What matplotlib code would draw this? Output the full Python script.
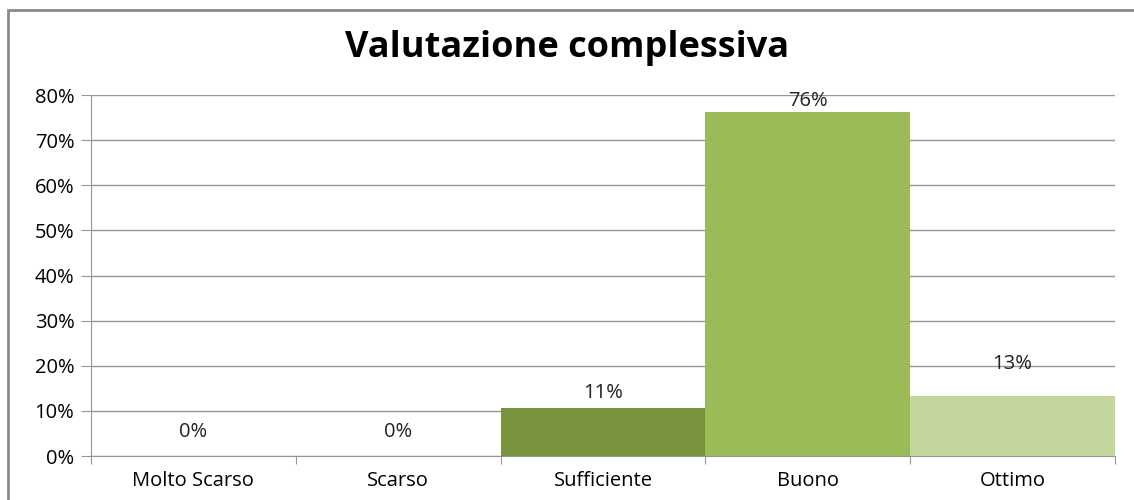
import matplotlib
matplotlib.use("Agg")
import matplotlib.pyplot as plt
from matplotlib.patches import Rectangle
from matplotlib.ticker import FuncFormatter, MultipleLocator

categorie = ["Molto Scarso", "Scarso", "Sufficiente", "Buono", "Ottimo"]
valori = [0.0, 0.0, 10.6, 76.2, 13.3]
etichette = ["0%", "0%", "11%", "76%", "13%"]
colori = ["#77933C", "#77933C", "#77933C", "#9BBB59", "#C3D69B"]
# distanza (in punti) delle etichette sopra le barre
scarti = [17, 17, 11, 8, 23]

plt.rcParams["font.family"] = ["Open Sans", "DejaVu Sans"]

fig = plt.figure(figsize=(11.34, 5), dpi=100)
ax = fig.add_axes([91 / 1134, 1 - 456 / 500, (1115 - 91) / 1134, (456 - 95) / 500])

# cornice grigia del grafico
fig.patches.append(Rectangle((8 / 1134, -0.1), 1.2, 1 - 10 / 500 + 0.1,
                             transform=fig.transFigure, fill=False,
                             edgecolor="#8a8a8a", linewidth=2))

x = range(len(categorie))
ax.bar(x, valori, width=1.0, color=colori, zorder=2)

for i, (v, t, d) in enumerate(zip(valori, etichette, scarti)):
    ax.annotate(t, (i, v), xytext=(0, d), textcoords="offset points",
                ha="center", va="center", fontsize=14.5, color="#222222")

ax.set_xlim(-0.5, len(categorie) - 0.5)
ax.set_ylim(0, 80)
ax.yaxis.set_major_locator(MultipleLocator(10))
ax.yaxis.set_major_formatter(FuncFormatter(lambda v, p: f"{v:.0f}%"))
ax.grid(axis="y", color="#969696", linewidth=1, zorder=0)

ax.set_xticks([i - 0.5 for i in range(len(categorie) + 1)], minor=False)
ax.set_xticklabels([""] * (len(categorie) + 1))
ax.set_xticks(list(x), minor=True)
ax.set_xticklabels(categorie, minor=True)
ax.tick_params(axis="x", which="major", length=6, color="#969696")
ax.tick_params(axis="x", which="minor", length=0, pad=11, labelsize=14.5)
ax.tick_params(axis="y", length=7, color="#969696", labelsize=14.5, pad=5)

for s in ["top", "right"]:
    ax.spines[s].set_visible(False)
ax.spines["left"].set_color("#969696")
ax.spines["bottom"].set_color("#969696")

fig.text(0.5, 1 - 48 / 500, "Valutazione complessiva", ha="center", va="center",
         fontsize=26, fontweight="bold")

fig.savefig("out.png", dpi=100)
